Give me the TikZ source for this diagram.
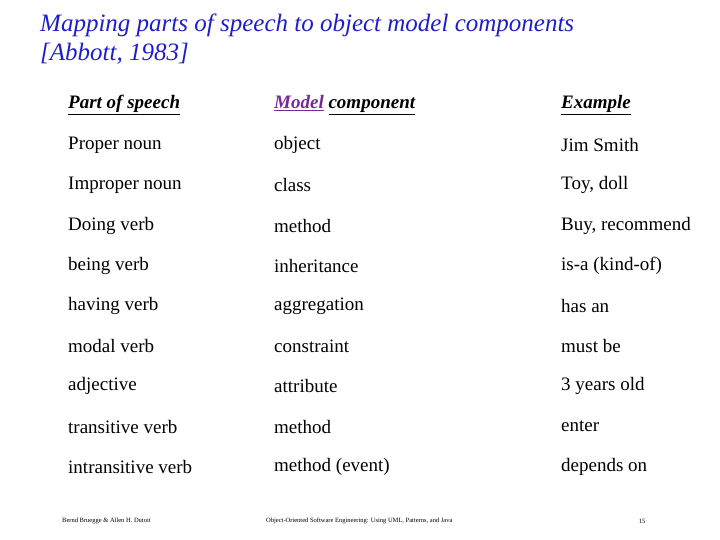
\documentclass[tikz,border=0pt]{standalone}
\usepackage{fontspec}
\setmainfont{Liberation Serif}
\definecolor{titleblue}{RGB}{30,30,200}
\definecolor{modelpurple}{RGB}{120,40,150}
\begin{document}
\begin{tikzpicture}[x=1pt,y=-1pt,
  cell/.style={anchor=west,inner sep=0pt,font=\fontsize{19}{22}\selectfont},
  head/.style={cell,font=\fontsize{19}{22}\selectfont\bfseries\itshape},
  foot/.style={inner sep=0pt,font=\fontsize{6.5}{8}\selectfont}]
\useasboundingbox (0,0) rectangle (720,540);
\node[anchor=north west,align=left,inner sep=0pt,text=titleblue,font=\fontsize{25}{29}\selectfont\itshape] (title) at (40,14) {Mapping parts of speech to object model components\\ {[}Abbott, 1983{]}};
\node[head] (h1) at (68,105) {\underline{Part of speech}};
\node[head] (h2) at (274,105) {\textcolor{modelpurple}{\underline{Model}} \underline{component}};
\node[head] (h3) at (561,105) {\underline{Example}};
\foreach \i/\a/\b/\c in {1/Proper noun/object/Jim Smith,2/Improper noun/class/{Toy, doll},3/Doing verb/method/{Buy, recommend},4/being verb/inheritance/is-a (kind-of),5/having verb/aggregation/has an,6/modal verb/constraint/must be,7/adjective/attribute/3 years old,8/transitive verb/method/enter,9/intransitive verb/method (event)/depends on}{
  \node[cell] (a\i) at (68,{105+40.2*\i}) {\a};
  \node[cell] (b\i) at (274,{105+40.2*\i}) {\b};
  \node[cell] (c\i) at (561,{105+40.2*\i}) {\c};
}
\node[foot,anchor=west] (f1) at (62,521) {Bernd Bruegge \& Allen H. Dutoit};
\node[foot,anchor=west] (f2) at (266,521) {Object-Oriented Software Engineering: Using UML, Patterns, and Java};
\node[foot] (f3) at (642,521) {15};
\end{tikzpicture}
\end{document}
